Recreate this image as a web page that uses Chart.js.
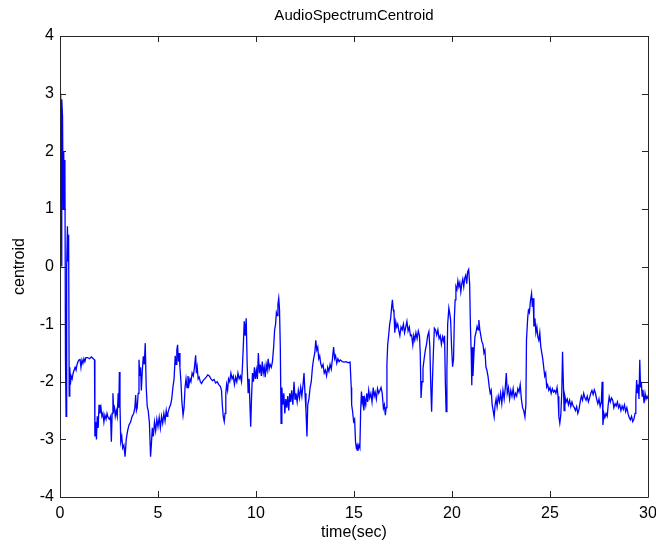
<!DOCTYPE html>
<html lang="en">
<head>
    <meta charset="UTF-8">
    <title>AudioSpectrumCentroid</title>
    <script src="https://cdn.jsdelivr.net/npm/chart.js"></script>
    <style>
        html, body { margin: 0; padding: 0; background: #fff; }
        canvas { display: block; }
    </style>
</head>
<body>
    <canvas id="myChart" width="656" height="549"></canvas>
    <script>
        // time axis (sec) and centroid values
        const times = [
            0.00, 0.03, 0.06, 0.08, 0.10, 0.13, 0.16, 0.19, 0.22, 0.25,
            0.28, 0.31, 0.34, 0.38, 0.41, 0.44, 0.47, 0.50, 0.53, 0.57,
            0.62, 0.67, 0.72, 0.77, 0.82, 0.87, 0.92, 0.97, 1.02, 1.07,
            1.12, 1.17, 1.22, 1.27, 1.32, 1.40, 1.50, 1.60, 1.70, 1.76,
            1.78, 1.82, 1.86, 1.90, 1.95, 1.99, 2.04, 2.09, 2.14, 2.19,
            2.24, 2.29, 2.35, 2.40, 2.45, 2.52, 2.58, 2.62, 2.66, 2.70,
            2.74, 2.78, 2.82, 2.87, 2.92, 2.97, 3.00, 3.03, 3.06, 3.10,
            3.15, 3.20, 3.26, 3.32, 3.38, 3.45, 3.52, 3.60, 3.68, 3.76,
            3.82, 3.86, 3.90, 3.94, 3.99, 4.03, 4.07, 4.11, 4.15, 4.20,
            4.25, 4.30, 4.35, 4.40, 4.45, 4.50, 4.56, 4.62, 4.66, 4.71,
            4.76, 4.82, 4.88, 4.94, 5.00, 5.06, 5.12, 5.18, 5.24, 5.30,
            5.36, 5.42, 5.46, 5.50, 5.58, 5.64, 5.70, 5.76, 5.82, 5.88,
            5.92, 5.96, 6.00, 6.04, 6.08, 6.12, 6.17, 6.22, 6.28, 6.33,
            6.38, 6.43, 6.48, 6.53, 6.58, 6.63, 6.68, 6.74, 6.80, 6.86,
            6.92, 6.96, 7.00, 7.05, 7.10, 7.16, 7.22, 7.30, 7.38, 7.46,
            7.54, 7.62, 7.70, 7.78, 7.86, 7.94, 8.02, 8.10, 8.18, 8.24,
            8.28, 8.33, 8.38, 8.42, 8.46, 8.50, 8.55, 8.60, 8.66, 8.72,
            8.78, 8.84, 8.90, 8.96, 9.02, 9.08, 9.14, 9.20, 9.26, 9.30,
            9.35, 9.40, 9.45, 9.50, 9.55, 9.60, 9.65, 9.70, 9.73, 9.77,
            9.82, 9.87, 9.92, 9.97, 10.02, 10.07, 10.12, 10.17, 10.22, 10.27,
            10.32, 10.37, 10.42, 10.47, 10.52, 10.57, 10.62, 10.67, 10.72, 10.78,
            10.84, 10.90, 10.95, 11.00, 11.04, 11.08, 11.12, 11.16, 11.20, 11.24,
            11.28, 11.32, 11.37, 11.42, 11.47, 11.52, 11.57, 11.62, 11.67, 11.72,
            11.77, 11.82, 11.88, 11.94, 11.99, 12.04, 12.10, 12.16, 12.22, 12.28,
            12.34, 12.40, 12.45, 12.50, 12.55, 12.60, 12.64, 12.70, 12.76, 12.82,
            12.88, 12.94, 13.00, 13.05, 13.10, 13.15, 13.20, 13.25, 13.30, 13.36,
            13.42, 13.48, 13.54, 13.60, 13.66, 13.72, 13.78, 13.84, 13.90, 13.96,
            14.01, 14.06, 14.12, 14.18, 14.24, 14.30, 14.40, 14.50, 14.60, 14.70,
            14.80, 14.86, 14.88, 14.93, 14.98, 15.03, 15.08, 15.12, 15.16, 15.20,
            15.25, 15.30, 15.34, 15.38, 15.42, 15.46, 15.50, 15.55, 15.60, 15.65,
            15.70, 15.75, 15.80, 15.86, 15.92, 15.98, 16.03, 16.08, 16.14, 16.20,
            16.26, 16.32, 16.38, 16.44, 16.50, 16.55, 16.60, 16.64, 16.68, 16.72,
            16.77, 16.82, 16.87, 16.92, 16.96, 17.00, 17.04, 17.08, 17.13, 17.18,
            17.23, 17.28, 17.34, 17.40, 17.46, 17.52, 17.58, 17.64, 17.70, 17.76,
            17.82, 17.88, 17.94, 18.00, 18.05, 18.10, 18.16, 18.22, 18.28, 18.34,
            18.38, 18.42, 18.47, 18.52, 18.58, 18.64, 18.70, 18.76, 18.82, 18.87,
            18.92, 18.96, 19.00, 19.05, 19.10, 19.16, 19.22, 19.28, 19.34, 19.40,
            19.46, 19.52, 19.58, 19.62, 19.66, 19.70, 19.74, 19.78, 19.84, 19.88,
            19.93, 19.98, 20.03, 20.08, 20.12, 20.16, 20.20, 20.25, 20.30, 20.35,
            20.40, 20.45, 20.50, 20.55, 20.60, 20.65, 20.70, 20.75, 20.80, 20.85,
            20.90, 20.94, 20.98, 21.01, 21.04, 21.07, 21.12, 21.17, 21.22, 21.28,
            21.33, 21.37, 21.42, 21.47, 21.52, 21.58, 21.63, 21.68, 21.73, 21.78,
            21.84, 21.90, 21.95, 22.00, 22.05, 22.10, 22.15, 22.20, 22.25, 22.30,
            22.36, 22.42, 22.48, 22.54, 22.60, 22.66, 22.72, 22.77, 22.82, 22.88,
            22.94, 23.00, 23.06, 23.12, 23.18, 23.24, 23.30, 23.36, 23.42, 23.48,
            23.54, 23.60, 23.66, 23.72, 23.77, 23.80, 23.86, 23.90, 23.95, 24.00,
            24.06, 24.10, 24.14, 24.18, 24.23, 24.28, 24.33, 24.38, 24.43, 24.48,
            24.53, 24.58, 24.63, 24.68, 24.73, 24.78, 24.83, 24.88, 24.94, 25.00,
            25.06, 25.12, 25.18, 25.24, 25.30, 25.36, 25.41, 25.45, 25.50, 25.55,
            25.60, 25.64, 25.68, 25.72, 25.76, 25.82, 25.88, 25.94, 26.00, 26.06,
            26.12, 26.18, 26.24, 26.30, 26.36, 26.42, 26.48, 26.54, 26.60, 26.66,
            26.72, 26.78, 26.84, 26.90, 26.96, 27.02, 27.08, 27.14, 27.20, 27.26,
            27.32, 27.38, 27.44, 27.50, 27.56, 27.62, 27.66, 27.70, 27.75, 27.80,
            27.86, 27.92, 27.97, 28.02, 28.08, 28.14, 28.20, 28.26, 28.32, 28.38,
            28.44, 28.50, 28.56, 28.62, 28.68, 28.74, 28.80, 28.86, 28.92, 28.98,
            29.04, 29.10, 29.16, 29.22, 29.28, 29.34, 29.38, 29.42, 29.46, 29.50,
            29.54, 29.58, 29.62, 29.66, 29.70, 29.74, 29.80, 29.85, 29.90, 29.95,
            30.00
        ];
        const centroid = [
            2.80, 3.00, 2.60, 0.00, 2.90, 2.60, 1.00, 2.00, 1.00, 1.85,
            -1.60, -2.60, 0.00, 0.70, 0.10, 0.55, -2.25, -1.75, -2.05, -1.90,
            -1.95, -1.85, -1.80, -1.75, -1.80, -1.70, -1.65, -1.62, -1.60, -1.75,
            -1.62, -1.68, -1.60, -1.65, -1.58, -1.58, -1.60, -1.57, -1.60, -1.62,
            -2.95, -2.70, -3.00, -2.60, -2.80, -2.40, -2.55, -2.45, -2.60, -2.55,
            -2.70, -2.58, -2.65, -2.55, -2.62, -2.65, -2.60, -3.04, -2.55, -2.20,
            -2.50, -2.45, -2.60, -2.50, -2.60, -2.20, -2.45, -1.83, -2.40, -3.04,
            -2.95, -3.15, -3.10, -3.30, -3.00, -2.85, -2.75, -2.70, -2.60, -2.55,
            -2.45, -2.23, -2.50, -2.45, -2.20, -1.62, -1.90, -1.75, -2.15, -1.80,
            -1.56, -1.70, -1.33, -2.10, -2.43, -2.50, -2.70, -3.30, -3.10, -2.80,
            -2.95, -2.70, -2.85, -2.65, -2.78, -2.62, -2.80, -2.60, -2.72, -2.55,
            -2.68, -2.50, -2.60, -2.55, -2.45, -2.40, -2.30, -2.10, -1.95, -1.55,
            -1.70, -1.45, -1.36, -1.65, -1.50, -1.75, -2.00, -2.35, -2.58, -2.45,
            -2.10, -1.95, -2.10, -1.90, -2.05, -1.95, -2.00, -1.85, -1.90, -1.75,
            -1.54, -1.85, -1.75, -1.95, -1.92, -2.00, -2.03, -1.98, -1.95, -1.92,
            -1.88, -1.90, -1.95, -1.98, -1.96, -2.02, -2.00, -2.05, -2.08, -2.15,
            -2.40, -2.60, -2.69, -2.55, -2.20, -2.05, -2.15, -1.95, -2.00, -1.85,
            -1.95, -1.90, -2.05, -1.92, -2.00, -1.85, -1.95, -1.90, -2.00, -1.80,
            -1.40, -0.95, -1.20, -0.90, -1.70, -2.20, -1.95, -2.50, -2.78, -2.30,
            -1.85, -2.00, -1.75, -1.95, -1.80, -1.95, -1.50, -1.85, -1.70, -1.90,
            -1.65, -1.85, -1.75, -1.92, -1.70, -1.80, -1.60, -1.78, -1.70, -1.75,
            -1.65, -1.40, -1.10, -1.00, -0.80, -0.85, -0.65, -0.55, -0.75, -1.40,
            -2.72, -2.10, -2.40, -2.20, -2.55, -2.30, -2.45, -2.25, -2.50, -2.20,
            -2.35, -2.15, -2.40, -2.00, -2.30, -2.20, -2.35, -2.15, -2.28, -2.10,
            -2.25, -2.05, -1.85, -2.20, -2.50, -2.95, -2.40, -2.30, -2.10, -2.00,
            -1.75, -1.60, -1.50, -1.28, -1.45, -1.40, -1.60, -1.55, -1.68, -1.75,
            -1.70, -1.85, -1.80, -1.90, -1.75, -1.82, -1.70, -1.78, -1.60, -1.40,
            -1.60, -1.55, -1.68, -1.60, -1.65, -1.62, -1.65, -1.66, -1.65, -1.67,
            -1.66, -2.10, -2.40, -2.52, -2.69, -2.65, -3.05, -3.15, -3.10, -3.20,
            -3.10, -3.15, -2.50, -2.17, -2.35, -2.25, -2.50, -2.30, -2.40, -2.20,
            -2.35, -2.15, -2.28, -2.20, -2.35, -2.10, -2.25, -2.18, -2.30, -2.12,
            -2.20, -2.15, -2.10, -2.20, -2.46, -2.40, -2.58, -2.45, -1.70, -1.35,
            -1.19, -1.00, -0.90, -0.70, -0.58, -0.75, -0.80, -1.15, -0.96, -1.05,
            -1.00, -1.10, -1.20, -1.05, -1.10, -1.00, -1.15, -1.05, -0.95, -1.12,
            -1.05, -1.20, -1.19, -1.36, -1.20, -1.28, -1.15, -1.25, -1.12, -1.20,
            -1.50, -2.28, -2.00, -1.77, -1.60, -1.45, -1.35, -1.20, -1.13, -1.40,
            -2.10, -2.52, -2.00, -1.50, -1.07, -1.10, -1.19, -1.10, -1.25, -1.20,
            -1.35, -1.22, -1.30, -1.20, -2.00, -2.52, -1.80, -1.00, -0.72, -0.80,
            -0.93, -1.40, -1.74, -1.60, -0.90, -0.58, -0.35, -0.40, -0.25, -0.35,
            -0.28, -0.44, -0.30, -0.22, -0.35, -0.20, -0.15, -0.30, -0.09, -0.05,
            -0.30, -1.04, -1.50, -2.06, -1.40, -1.90, -1.50, -1.22, -1.15, -1.04,
            -1.10, -0.93, -1.10, -1.20, -1.30, -1.35, -1.50, -1.45, -1.74, -1.80,
            -1.91, -2.09, -2.20, -2.15, -2.40, -2.50, -2.61, -2.40, -2.30, -2.43,
            -2.25, -2.35, -2.20, -2.38, -2.15, -2.30, -2.10, -1.85, -2.20, -2.10,
            -2.30, -2.15, -2.25, -2.12, -2.28, -2.20, -2.25, -2.12, -2.18, -2.05,
            -2.30, -2.45, -2.50, -2.61, -2.40, -1.28, -0.90, -0.76, -0.80, -0.60,
            -0.47, -0.70, -0.55, -1.04, -0.90, -1.15, -1.05, -1.22, -1.28, -1.15,
            -1.39, -1.50, -1.60, -1.75, -1.90, -1.85, -2.09, -2.05, -2.15, -2.10,
            -2.20, -2.12, -2.18, -2.15, -2.20, -2.10, -2.25, -2.60, -2.72, -2.58,
            -2.20, -1.48, -2.00, -2.50, -2.25, -2.35, -2.30, -2.40, -2.32, -2.43,
            -2.35, -2.42, -2.45, -2.50, -2.43, -2.55, -2.48, -2.35, -2.25, -2.32,
            -2.20, -2.28, -2.32, -2.25, -2.35, -2.28, -2.20, -2.15, -2.22, -2.14,
            -2.20, -2.30, -2.38, -2.30, -2.43, -2.35, -2.00, -2.75, -2.55, -2.62,
            -2.55, -2.60, -2.40, -2.26, -2.35, -2.28, -2.32, -2.45, -2.38, -2.42,
            -2.35, -2.45, -2.40, -2.50, -2.42, -2.48, -2.40, -2.52, -2.45, -2.55,
            -2.62, -2.66, -2.60, -2.69, -2.65, -2.55, -2.30, -1.97, -2.20, -2.05,
            -2.30, -1.62, -2.10, -2.00, -2.25, -2.14, -2.37, -2.20, -2.30, -2.25,
            -2.30
        ];
        const xTicks = [0, 5, 10, 15, 20, 25, 30];
        const yTicks = [-4, -3, -2, -1, 0, 1, 2, 3, 4];

        const fontFamily = "'Liberation Sans', Arial, sans-serif";
        const points = times.map((t, i) => ({ x: t, y: centroid[i] }));

        // matlab style box with inward ticks on all four sides
        const boxPlugin = {
            id: 'box',
            afterDraw(chart) {
                const ctx = chart.ctx;
                const a = chart.chartArea;
                const xs = chart.scales.x, ys = chart.scales.y;
                const len = 6;
                ctx.save();
                ctx.strokeStyle = '#262626';
                ctx.lineWidth = 1;
                ctx.beginPath();
                ctx.rect(Math.round(a.left) + 0.5, Math.round(a.top) + 0.5,
                    Math.round(a.right - a.left), Math.round(a.bottom - a.top));
                xTicks.forEach(v => {
                    const px = Math.round(xs.getPixelForValue(v)) + 0.5;
                    ctx.moveTo(px, a.bottom);
                    ctx.lineTo(px, a.bottom - len);
                    ctx.moveTo(px, a.top);
                    ctx.lineTo(px, a.top + len);
                });
                yTicks.forEach(v => {
                    const py = Math.round(ys.getPixelForValue(v)) + 0.5;
                    ctx.moveTo(a.left, py);
                    ctx.lineTo(a.left + len, py);
                    ctx.moveTo(a.right, py);
                    ctx.lineTo(a.right - len, py);
                });
                ctx.stroke();
                ctx.restore();
            }
        };

        const ctx = document.getElementById('myChart').getContext('2d');
        const myChart = new Chart(ctx, {
            type: 'line',
            data: {
                datasets: [{
                    label: 'centroid',
                    data: points,
                    borderColor: '#0000ff',
                    borderWidth: 1.3,
                    pointRadius: 0,
                    fill: false,
                    tension: 0
                }]
            },
            options: {
                responsive: false,
                animation: false,
                devicePixelRatio: 1,
                layout: { padding: { left: 0, right: 8, top: 0, bottom: 0 } },
                plugins: {
                    legend: { display: false },
                    tooltip: { enabled: false },
                    title: {
                        display: true,
                        fullSize: false,
                        text: 'AudioSpectrumCentroid',
                        color: '#000',
                        font: { family: fontFamily, size: 15, weight: 'normal' },
                        padding: { top: 7, bottom: 11 }
                    }
                },
                scales: {
                    x: {
                        type: 'linear',
                        min: 0,
                        max: 30,
                        afterBuildTicks(s) { s.ticks = xTicks.map(v => ({ value: v })); },
                        ticks: {
                            color: '#000',
                            padding: 7,
                            maxRotation: 0,
                            font: { family: fontFamily, size: 16 }
                        },
                        grid: { display: false, drawTicks: false },
                        border: { display: false },
                        title: {
                            display: true,
                            text: 'time(sec)',
                            color: '#000',
                            font: { family: fontFamily, size: 16 },
                            padding: { top: 0, bottom: 7 }
                        },
                        afterFit(s) {
                            s.height = 52;
                            s.paddingLeft = 0;
                            s.paddingRight = 0;
                        }
                    },
                    y: {
                        min: -4,
                        max: 4,
                        afterBuildTicks(s) { s.ticks = yTicks.map(v => ({ value: v })); },
                        ticks: {
                            color: '#000',
                            padding: 6,
                            font: { family: fontFamily, size: 16 }
                        },
                        grid: { display: false, drawTicks: false },
                        border: { display: false },
                        title: {
                            display: true,
                            text: 'centroid',
                            color: '#000',
                            font: { family: fontFamily, size: 16 },
                            padding: { top: 10, bottom: 0 }
                        },
                        afterFit(s) {
                            s.width = 60;
                            s.paddingTop = 0;
                            s.paddingBottom = 0;
                        }
                    }
                }
            },
            plugins: [boxPlugin]
        });
    </script>
</body>
</html>
